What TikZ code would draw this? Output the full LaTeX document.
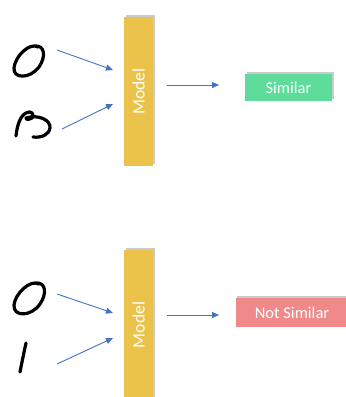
\documentclass[tikz,border=0pt]{standalone}
\usepackage{fontspec}
\setmainfont{Carlito}
\usetikzlibrary{arrows.meta,shadows}
\definecolor{barY}{HTML}{EBC34B}
\definecolor{simG}{HTML}{5EDC9B}
\definecolor{notR}{HTML}{F08A8A}
\definecolor{arrB}{HTML}{4472C4}
\tikzset{
  modelbar/.style={fill=barY, draw=none, minimum width=29pt, minimum height=149pt, inner sep=0pt,
     drop shadow={shadow xshift=1.5pt, shadow yshift=2pt, opacity=0.35, fill=black!60}},
  resultbox/.style={draw=none, text=white, inner sep=0pt, font=\fontsize{16.5}{19}\selectfont,
     drop shadow={shadow xshift=1.5pt, shadow yshift=2pt, opacity=0.35, fill=black!60}},
  modeltext/.style={text=white, rotate=90, font=\fontsize{17.5}{20}\selectfont},
  flow/.style={draw=arrB, line width=0.9pt, -{Triangle[length=7pt,width=6pt]}},
  ink/.style={draw=black, line width=3.2pt, line cap=round, line join=round},
}
\begin{document}
\begin{tikzpicture}[x=1pt,y=-1pt]
\useasboundingbox (0,0) rectangle (346,397);
% top row
\node[modelbar] (m1) at (138.5,91.5) {};
\node[modeltext] (m1t) at (138.5,91.5) {Model};
\node[resultbox, fill=simG, minimum width=87pt, minimum height=27pt] (s1) at (288.5,87.5) {Similar};
\coordinate (a1) at (57,50);
\coordinate (b1) at (62,129);
\coordinate (t1) at (113,70);
\coordinate (t2) at (113,104);
\coordinate (h1) at (167,85);
\coordinate (h2) at (219,85);
\draw[flow] (a1) -- (t1);
\draw[flow] (b1) -- (t2);
\draw[flow] (h1) -- (h2);
% handwritten 0 (top)
\draw[ink] (38,47) .. controls (30,42) and (15,56) .. (14,68)
   .. controls (13,79) and (30,79) .. (39,67)
   .. controls (46,57) and (45,45) .. (35,46);
% handwritten 3-like (top): rising stroke, small top loop, big right bump
\draw[ink] (16,136) .. controls (17,126) and (20,116) .. (26,113)
   .. controls (31,110) and (35,114) .. (32,118)
   .. controls (30,120) and (26,120) .. (26,118)
   .. controls (38,114) and (51,120) .. (50,128)
   .. controls (49,135) and (41,138) .. (33,137);
% bottom row
\node[modelbar] (m2) at (138.5,324.5) {};
\node[modeltext] (m2t) at (138.5,325) {Model};
\node[resultbox, fill=notR, minimum width=113pt, minimum height=29pt] (s2) at (292,312.5) {Not Similar};
\coordinate (a2) at (57,294);
\coordinate (b2) at (57,364);
\coordinate (t3) at (113,313);
\coordinate (t4) at (113,338);
\coordinate (h3) at (167,315);
\coordinate (h4) at (219,315);
\draw[flow] (a2) -- (t3);
\draw[flow] (b2) -- (t4);
\draw[flow] (h3) -- (h4);
% handwritten 0 (bottom)
\draw[ink] (39,284) .. controls (30,279) and (15,294) .. (14,305)
   .. controls (13,317) and (31,317) .. (40,304)
   .. controls (47,294) and (46,282) .. (36,283);
% handwritten 1
\draw[ink] (26,343) .. controls (24,352) and (22,362) .. (20,372);
\end{tikzpicture}
\end{document}
